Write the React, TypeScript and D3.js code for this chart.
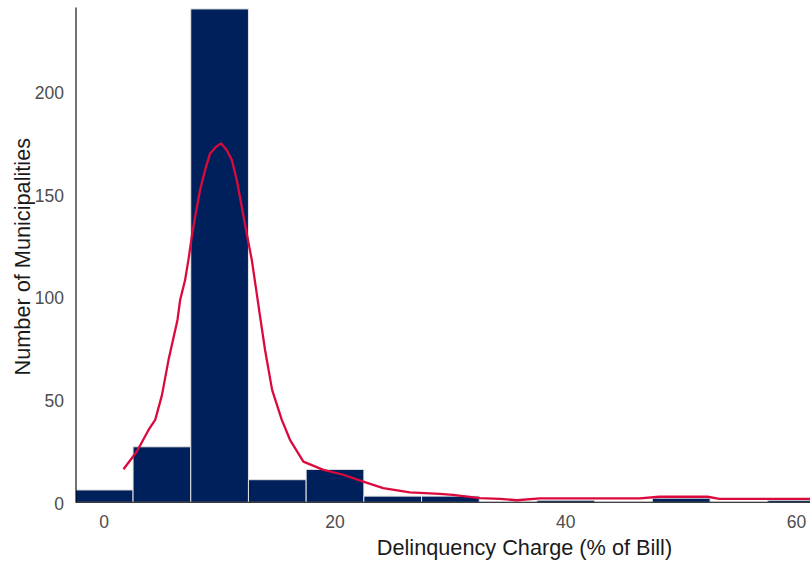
import React from "react";
import * as d3 from "d3";

// Histogram of delinquency charges, bins of width 5 centred on multiples of 5
const binCenters = [0, 5, 10, 15, 20, 25, 30, 35, 40, 45, 50, 55, 60];
const binCounts = [6, 27, 240, 11, 16, 3, 3, 0, 1, 0, 2, 0, 1];
const binWidth = 5;

// Smoothed density curve, scaled to counts
const curveX = [
  1.67, 2.83, 3.84, 4.42, 5.0, 5.6, 6.35, 6.58, 7.01, 7.3, 7.59, 7.88, 8.31, 8.74,
  9.18, 9.7, 10.13, 10.6, 11.06, 11.49, 11.92, 12.35, 12.79, 13.13, 13.51, 13.94,
  14.55, 15.39, 16.1, 17.26, 18.99, 20.72, 22.45, 24.18, 26.49, 29.09, 30.22,
  32.55, 34.29, 35.76, 37.75, 46.4, 48.1, 52.3, 53.3, 61.5,
];
const curveY = [
  16.1, 24.7, 35.2, 40.1, 52.0, 70.0, 88.7, 98.4, 108.1, 117.9, 129.2, 138.9, 151.9,
  161.6, 169.7, 173.0, 174.6, 171.5, 166.5, 156.8, 143.8, 130.8, 117.9, 104.9,
  90.3, 74.1, 54.7, 40.1, 30.4, 19.8, 15.8, 13.4, 10.1, 6.9, 4.8, 4.1, 3.6,
  2.0, 1.7, 1.0, 1.9, 1.9, 2.7, 2.7, 1.7, 1.7,
];

const xTicks = [0, 20, 40, 60];
const yTicks = [0, 50, 100, 150, 200];

const W = 810;
const H = 562;
const panel = { left: 76, right: 973, top: 7.5, bottom: 502.3 };

const font = "'Liberation Sans', Arial, Helvetica, sans-serif";

export default function App() {
  const x = d3.scaleLinear().domain([0, 60]).range([104.2, 796.6]);
  const y = d3.scaleLinear().domain([0, 240.7]).range([panel.bottom, panel.top]);

  const pts: [number, number][] = curveX.map((v, i) => [v, curveY[i]]);
  const line = d3
    .line<[number, number]>()
    .x((d) => x(d[0]))
    .y((d) => y(d[1]))
    .curve(d3.curveLinear);

  return (
    <svg
      width={W}
      height={H}
      style={{ position: "absolute", left: 0, top: 0, background: "#fff" }}
    >
      <defs>
        <clipPath id="panel-clip">
          <rect
            x={panel.left}
            y={panel.top - 1}
            width={panel.right - panel.left}
            height={panel.bottom - panel.top + 1}
          />
        </clipPath>
      </defs>

      <g clipPath="url(#panel-clip)">
        {binCenters.map((c, i) => {
          const x0 = x(c - binWidth / 2);
          const x1 = x(c + binWidth / 2);
          const top = y(binCounts[i]);
          return (
            <rect
              key={c}
              x={x0}
              y={top}
              width={x1 - x0}
              height={panel.bottom - top}
              fill="#00205b"
              stroke="#e4e4e4"
              strokeWidth={1}
            />
          );
        })}
        <path
          d={line(pts) || ""}
          fill="none"
          stroke="#dc0a3c"
          strokeWidth={2.3}
          strokeLinejoin="round"
        />
      </g>

      {/* axis lines */}
      <line
        x1={panel.left}
        x2={panel.left}
        y1={panel.top}
        y2={panel.bottom + 0.5}
        stroke="#000"
        strokeWidth={1.1}
      />
      <line
        x1={panel.left}
        x2={W}
        y1={panel.bottom}
        y2={panel.bottom}
        stroke="#000"
        strokeWidth={1.1}
      />

      {/* y tick labels */}
      {yTicks.map((t) => (
        <text
          key={t}
          x={64}
          y={y(t) + 7.7}
          textAnchor="end"
          fontFamily={font}
          fontSize={17.5}
          fill="#4d4d4d"
        >
          {t}
        </text>
      ))}

      {/* x tick labels */}
      {xTicks.map((t) => (
        <text
          key={t}
          x={x(t)}
          y={528.3}
          textAnchor="middle"
          fontFamily={font}
          fontSize={17.5}
          fill="#4d4d4d"
        >
          {t}
        </text>
      ))}

      {/* axis titles */}
      <text
        x={524.5}
        y={555}
        textAnchor="middle"
        fontFamily={font}
        fontSize={21.7}
        fill="#1a1a1a"
      >
        Delinquency Charge (% of Bill)
      </text>
      <text
        transform={`translate(29.5, 256.7) rotate(-90)`}
        textAnchor="middle"
        fontFamily={font}
        fontSize={21.7}
        fill="#1a1a1a"
      >
        Number of Municipalities
      </text>
    </svg>
  );
}
